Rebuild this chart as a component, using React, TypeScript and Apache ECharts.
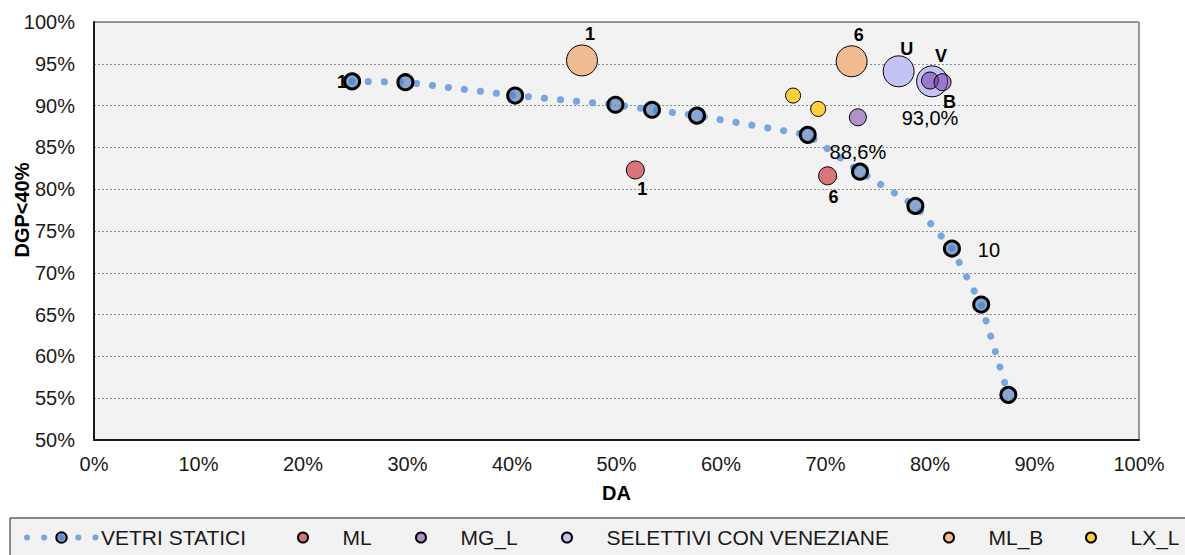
import React, { useEffect, useRef } from 'react';
import * as echarts from 'echarts';

const FONT = '"Liberation Sans", Arial, Helvetica, sans-serif';

// ---- data (percent values) ----
const vetriX = [24.7, 29.8, 40.3, 49.9, 53.4, 57.7, 68.3, 73.3, 78.6, 82.1, 84.9, 87.5];
const vetriY = [92.9, 92.8, 91.2, 90.1, 89.5, 88.8, 86.5, 82.1, 78.0, 72.9, 66.2, 55.4];
const vetriLabels = ['1', '', '', '', '', '', '', '', '', '10', '', ''];

const mlX = [51.8, 70.2];
const mlY = [82.3, 81.6];
const mlLabels = ['1', '6'];

const mglX = [80.0, 81.2, 73.1];
const mglY = [93.0, 92.8, 88.6];
const mglLabels = ['93,0%', 'B', '88,6%'];

const selX = [77.0, 80.2];
const selY = [94.1, 92.9];
const selLabels = ['U', 'V'];

const mlbX = [46.7, 72.5];
const mlbY = [95.4, 95.3];
const mlbLabels = ['1', '6'];

const lxlX = [66.9, 69.3];
const lxlY = [91.2, 89.6];

const seriesNames = ['VETRI STATICI', 'ML', 'MG_L', 'SELETTIVI CON VENEZIANE', 'ML_B', 'LX_L'];
const xAxisTitle = 'DA';
const yAxisTitle = 'DGP<40%';

// ---- label placement (styling, offsets from the point centre in px) ----
const vetriOffsets = [[-10, 1], [0, 0], [0, 0], [0, 0], [0, 0], [0, 0], [0, 0], [0, 0], [0, 0], [37, 1], [0, 0], [0, 0]];
const mlOffsets = [[7, 19], [6, 21]];
const mglOffsets = [[0, 37], [7, 20], [0, 35]];
const selOffsets = [[8, -22], [9, -25]];
const mlbOffsets = [[8, -26], [7, -26]];

const boldLabel = { fontFamily: FONT, fontSize: 18, fontWeight: 'bold' as const, color: '#000' };
const plainLabel = { fontFamily: FONT, fontSize: 20, fontWeight: 'normal' as const, color: '#000' };

function isBoldText(t: string) {
  return /^[A-Z]$/.test(t) || /^[0-9]$/.test(t);
}

function points(xs: number[], ys: number[], labels?: string[], offsets?: number[][]) {
  return xs.map((x, i) => {
    const t = labels ? labels[i] : '';
    return {
      value: [x, ys[i]],
      label: t
        ? {
            show: true,
            formatter: t,
            position: 'inside',
            offset: offsets ? offsets[i] : [0, 0],
            textBorderWidth: 0,
            ...(isBoldText(t) ? boldLabel : plainLabel),
          }
        : { show: false },
    };
  });
}

export default function App() {
  const ref = useRef<HTMLDivElement>(null);

  useEffect(() => {
    if (!ref.current) return;
    const chart = echarts.init(ref.current, null, { renderer: 'svg' });

    const legendText = { fontFamily: FONT, fontSize: 21, color: '#1a1a1a' };
    const legendBase = {
      top: 527,
      padding: 0,
      itemWidth: 69,
      itemHeight: 10,
      itemGap: 0,
      selectedMode: false,
      textStyle: legendText,
    };
    const legendLefts = [24, 297, 415, 561, 943, 1085];

    const option: any = {
      animation: false,
      backgroundColor: '#ffffff',
      graphic: [
        {
          type: 'rect',
          z: -10,
          silent: true,
          shape: { x: 10, y: 518, width: 1190, height: 45 },
          style: { fill: '#f2f2f2', stroke: '#1a1a1a', lineWidth: 1 },
        },
        {
          type: 'text',
          silent: true,
          x: 22,
          y: 210,
          rotation: Math.PI / 2,
          style: {
            text: yAxisTitle,
            fontFamily: FONT,
            fontSize: 20,
            fontWeight: 'bold',
            fill: '#000',
            align: 'center',
            verticalAlign: 'middle',
          },
        },
      ],
      legend: seriesNames.map((name, i) =>
        i === 0
          ? {
              ...legendBase,
              left: legendLefts[i],
              itemHeight: 13,
              data: [name],
              lineStyle: { width: 6, type: [0.1, 17], cap: 'round', color: '#78a7e0' },
            }
          : { ...legendBase, left: legendLefts[i], data: [name] }
      ),
      grid: {
        left: 94,
        right: 46,
        top: 22,
        bottom: 115,
        outerBoundsMode: 'none',
        containLabel: false,
        show: true,
        backgroundColor: '#f2f2f2',
        borderColor: '#333333',
        borderWidth: 1,
      },
      xAxis: {
        type: 'value',
        min: 0,
        max: 100,
        interval: 10,
        name: xAxisTitle,
        nameLocation: 'middle',
        nameGap: 43,
        nameTextStyle: { fontFamily: FONT, fontSize: 20, fontWeight: 'bold', color: '#000' },
        axisLine: { show: true, lineStyle: { color: '#1a1a1a', width: 2 } },
        axisTick: { show: false },
        splitLine: { show: false },
        axisLabel: {
          formatter: (v: number) => `${v}%`,
          fontFamily: FONT,
          fontSize: 20,
          color: '#1a1a1a',
          margin: 14,
        },
      },
      yAxis: {
        type: 'value',
        min: 50,
        max: 100,
        interval: 5,
        axisLine: { show: true, lineStyle: { color: '#1a1a1a', width: 2 } },
        axisTick: { show: false },
        splitLine: { show: true, lineStyle: { color: '#8c8c8c', width: 1, type: [2, 2] } },
        axisLabel: {
          formatter: (v: number) => `${v}%`,
          fontFamily: FONT,
          fontSize: 20,
          color: '#1a1a1a',
          margin: 19,
        },
      },
      series: [
        {
          name: seriesNames[0],
          type: 'line',
          z: 2,
          data: points(vetriX, vetriY, vetriLabels, vetriOffsets),
          symbol: 'circle',
          symbolSize: 15,
          itemStyle: { color: 'rgba(80,125,190,0.65)', borderColor: '#000', borderWidth: 3 },
          lineStyle: { color: '#78a7e0', width: 7, type: [0.1, 16], cap: 'round' },
        },
        {
          name: seriesNames[1],
          type: 'scatter',
          z: 3,
          data: points(mlX, mlY, mlLabels, mlOffsets),
          symbolSize: 18,
          itemStyle: { color: '#d97478', borderColor: '#000', borderWidth: 1, opacity: 1 },
        },
        {
          name: seriesNames[2],
          type: 'scatter',
          z: 5,
          data: points(mglX, mglY, mglLabels, mglOffsets),
          symbolSize: 17,
          itemStyle: { color: 'rgba(112,48,160,0.5)', borderColor: '#000', borderWidth: 1, opacity: 1 },
        },
        {
          name: seriesNames[3],
          type: 'scatter',
          z: 4,
          data: points(selX, selY, selLabels, selOffsets),
          symbolSize: 31,
          itemStyle: { color: '#c3c3f4', borderColor: '#000', borderWidth: 1, opacity: 1 },
        },
        {
          name: seriesNames[4],
          type: 'scatter',
          z: 3,
          data: points(mlbX, mlbY, mlbLabels, mlbOffsets),
          symbolSize: 31,
          itemStyle: { color: '#f0bb91', borderColor: '#000', borderWidth: 1, opacity: 1 },
        },
        {
          name: seriesNames[5],
          type: 'scatter',
          z: 3,
          data: points(lxlX, lxlY),
          symbolSize: 15,
          itemStyle: { color: '#fed03c', borderColor: '#000', borderWidth: 1, opacity: 1 },
        },
      ],
    };

    chart.setOption(option);
    return () => chart.dispose();
  }, []);

  return (
    <div
      ref={ref}
      style={{ position: 'absolute', left: 0, top: 0, width: 1185, height: 555 }}
    />
  );
}
